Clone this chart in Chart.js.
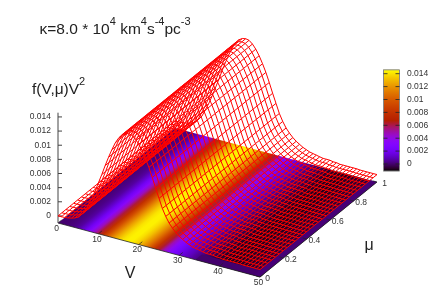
<!DOCTYPE html>
<html>
<head>
<meta charset="utf-8">
<style>
  html, body { margin: 0; padding: 0; background: #fff; }
  canvas { display: block; }
</style>
<script src="https://cdn.jsdelivr.net/npm/chart.js@4"></script>
</head>
<body>
<canvas id="chart" width="436" height="305"></canvas>
<script>
// mesh grid (one column per V, one row per mu)
const velocities = [0,0.83,1.67,2.5,3.33,4.17,5,5.83,6.67,7.5,8.33,9.17,10,10.83,11.67,12.5,13.33,14.17,15,15.83,16.67,17.5,18.33,19.17,20,20.83,21.67,22.5,23.33,24.17,25,25.83,26.67,27.5,28.33,29.17,30,30.83,31.67,32.5,33.33,34.17,35,35.83,36.67,37.5,38.33,39.17,40,40.83,41.67,42.5,43.33,44.17,45,45.83,46.67,47.5,48.33,49.17,50];
const mus = [0,0.033,0.067,0.1,0.133,0.167,0.2,0.233,0.267,0.3,0.333,0.367,0.4,0.433,0.467,0.5,0.533,0.567,0.6,0.633,0.667,0.7,0.733,0.767,0.8,0.833,0.867,0.9,0.933,0.967,1];
const density = [0,0.00001,0.00004,0.0001,0.0002,0.00035,0.0006,0.0011,0.0017,0.0027,0.0037,0.0049,0.0062,0.0075,0.0089,0.0102,0.0114,0.0125,0.0133,0.0139,0.0142,0.0143,0.0142,0.0138,0.0132,0.0124,0.0114,0.0103,0.009,0.0076,0.0063,0.005,0.004,0.0032,0.0026,0.0021,0.0017,0.0014,0.0011,0.0009,0.0007,0.0006,0.0005,0.0004,0.0003,0.0003,0.0003,0.0002,0.0002,0.0001,0.0001,0.0001,0.0001,0.0001,0.0001,0.00005,0.00005,0.00005,0.00005,0.00005,0.00005];
// colour of the base map, darker than the surface in the tail
const baseVelocities = [0,1,2,3,4,5,6,7,8,9,10,11,12,13,14,15,16,17,18,19,20,21,22,23,24,25,26,27,28,29,30,31,32,33,34,35,36,37,38,39,40,41,42,43,44,45,46,47,48,49,50];
const baseLevel = [0,0.00002,0.00006,0.00015,0.0003,0.0006,0.0012,0.0021,0.0033,0.0047,0.0062,0.0078,0.0094,0.011,0.0123,0.0133,0.014,0.0143,0.0143,0.0139,0.0132,0.0122,0.011,0.0095,0.0079,0.0063,0.0048,0.0037,0.0028,0.0022,0.0017,0.0013,0.001,0.0006,0.0003,0,-0.0002,-0.0004,-0.0006,-0.0007,-0.0008,-0.0008,-0.0008,-0.0008,-0.0007,-0.0007,-0.0006,-0.0006,-0.0005,-0.0004,-0.0004];

const zTicks = [0,0.002,0.004,0.006,0.008,0.01,0.012,0.014];
const zTickLabels = ['0','0.002','0.004','0.006','0.008','0.01','0.012','0.014'];
const vTicks = [0,10,20,30,40,50];
const muTicks = [0,0.2,0.4,0.6,0.8,1];
const muTickLabels = ['0','0.2','0.4','0.6','0.8','1'];

const zMin = -0.001, cbMin = -0.0011, cbMax = 0.0146;

// gnuplot style orthographic view, page pixels
function project(v, mu, z) {
  return {
    x: 58 + 4.04 * v + 117 * mu,
    y: 223 + 1.08 * v - 95 * mu - (z - zMin) * 7071
  };
}

// default pm3d palette (rgbformulae 7,5,15)
function palette(level) {
  const t = Math.min(1, Math.max(0, (level - cbMin) / (cbMax - cbMin)));
  const r = Math.sqrt(t), g = t * t * t, b = Math.max(0, Math.sin(2 * Math.PI * t));
  return `rgb(${Math.round(r * 255)},${Math.round(g * 255)},${Math.round(b * 255)})`;
}

function cbY(z) {
  return 164 - z * 6450;
}

const gradients = {};
function baseGradient(context) {
  const chart = context.chart;
  if (!chart.chartArea) return '#000';
  if (gradients.base) return gradients.base;
  const sx = chart.scales.x, sy = chart.scales.y;
  // the colour only changes along V, so run the gradient across the mu direction
  const a = project(0, 0, zMin), b = project(50, 0, zMin), c = project(0, 1, zMin);
  const wx = c.x - a.x, wy = c.y - a.y;
  const nLen = Math.hypot(wx, wy);
  const nx = -wy / nLen, ny = wx / nLen;
  const d = (b.x - a.x) * nx + (b.y - a.y) * ny;
  const g = chart.ctx.createLinearGradient(
    sx.getPixelForValue(a.x), sy.getPixelForValue(a.y),
    sx.getPixelForValue(a.x + nx * d), sy.getPixelForValue(a.y + ny * d));
  baseVelocities.forEach((v, i) => g.addColorStop(v / 50, palette(baseLevel[i])));
  gradients.base = g;
  return g;
}

function barGradient(context) {
  const chart = context.chart;
  if (!chart.chartArea) return '#000';
  if (gradients.bar) return gradients.bar;
  const sy = chart.scales.y;
  const g = chart.ctx.createLinearGradient(0, sy.getPixelForValue(cbY(cbMin)), 0, sy.getPixelForValue(cbY(cbMax)));
  for (let i = 0; i <= 40; i++) {
    g.addColorStop(i / 40, palette(cbMin + (cbMax - cbMin) * i / 40));
  }
  gradients.bar = g;
  return g;
}

function lineSet(points, color, width) {
  return { data: points, showLine: true, borderColor: color, borderWidth: width, pointRadius: 0, fill: false, tension: 0 };
}

function shapeSet(points, background) {
  return { data: points, showLine: true, borderWidth: 0, borderColor: 'transparent', pointRadius: 0, fill: 'shape', backgroundColor: background, tension: 0 };
}

const datasets = [];
const meshColor = 'rgb(255,0,0)';

// first in the list is painted last: mesh on top
mus.forEach((mu) => {
  datasets.push(lineSet(velocities.map((v, i) => project(v, mu, density[i])), meshColor, 1));
});
velocities.forEach((v, i) => {
  datasets.push(lineSet(mus.map((mu) => project(v, mu, density[i])), meshColor, 1));
});

// axes
const axisColor = '#444';
datasets.push(lineSet([project(0, 0, zMin), project(0, 0, cbMax)], axisColor, 1));
datasets.push(lineSet([project(0, 0, zMin), project(50, 0, zMin)], '#222', 0.8));
datasets.push(lineSet([project(50, 0, zMin), project(50, 1, zMin)], '#222', 0.8));
zTicks.forEach((z) => {
  const p = project(0, 0, z);
  datasets.push(lineSet([p, { x: p.x + 4, y: p.y }], axisColor, 1));
});
vTicks.forEach((v) => {
  datasets.push(lineSet([project(v, 0, zMin), project(v, 0.03, zMin)], '#222', 0.7));
});
muTicks.forEach((mu) => {
  datasets.push(lineSet([project(50, mu, zMin), project(49, mu, zMin)], '#222', 0.7));
});

// colour box
const barLeft = 383.5, barRight = 399.5;
zTicks.forEach((z) => {
  datasets.push(lineSet([{ x: barLeft, y: cbY(z) }, { x: barLeft + 4, y: cbY(z) }], '#222', 0.8));
  datasets.push(lineSet([{ x: barRight - 4, y: cbY(z) }, { x: barRight, y: cbY(z) }], '#222', 0.8));
});
const barCorners = [
  { x: barLeft, y: cbY(cbMin) }, { x: barRight, y: cbY(cbMin) },
  { x: barRight, y: cbY(cbMax) }, { x: barLeft, y: cbY(cbMax) }, { x: barLeft, y: cbY(cbMin) }
];
datasets.push(lineSet(barCorners, '#888', 1));
datasets.push(shapeSet(barCorners, barGradient));

// rim of the base map, at the surface's zero colour
datasets.push(shapeSet([project(48.4, 0, zMin), project(50, 0, zMin), project(50, 1, zMin), project(48.4, 1, zMin), project(48.4, 0, zMin)], palette(0.0001)));
datasets.push(shapeSet([project(34, 0, zMin), project(50, 0, zMin), project(50, 0.055, zMin), project(34, 0.055, zMin), project(34, 0, zMin)], palette(0)));
// base map
datasets.push(shapeSet([project(0, 0, zMin), project(50, 0, zMin), project(50, 1, zMin), project(0, 1, zMin), project(0, 0, zMin)], baseGradient));

function drawRuns(ctx, x, y, runs) {
  // runs: [text, size, raise]
  runs.forEach((r) => {
    ctx.font = `${r[1]}px "Liberation Sans", Arial, sans-serif`;
    ctx.fillText(r[0], x, y - r[2]);
    x += ctx.measureText(r[0]).width;
  });
}

const labelsPlugin = {
  id: 'labels',
  afterDraw(chart) {
    const ctx = chart.ctx;
    ctx.save();
    ctx.textBaseline = 'alphabetic';
    ctx.fillStyle = '#222';
    ctx.textAlign = 'left';
    drawRuns(ctx, 39.5, 34, [['κ=8.0 * 10', 15.5, 0], ['4', 11, 9], [' km', 15.5, 0], ['4', 11, 9], ['s', 15.5, 0], ['-4', 11, 9], ['pc', 15.5, 0], ['-3', 11, 9]]);
    drawRuns(ctx, 32, 94, [['f(V,μ)V', 15.5, 0], ['2', 11, 9]]);
    ctx.font = '16px "Liberation Sans", Arial, sans-serif';
    ctx.textAlign = 'center';
    ctx.fillText('V', 130, 278);
    ctx.fillText('μ', 369, 250);

    ctx.fillStyle = '#333';
    ctx.font = '8.5px "Liberation Sans", Arial, sans-serif';
    ctx.textBaseline = 'middle';
    ctx.textAlign = 'right';
    zTicks.forEach((z, i) => {
      const p = project(0, 0, z);
      ctx.fillText(zTickLabels[i], 51, p.y);
    });
    ctx.textAlign = 'center';
    vTicks.forEach((v) => {
      const p = project(v, 0, zMin);
      ctx.fillText(String(v), p.x - 1.5, p.y + 5.5);
    });
    muTicks.forEach((mu, i) => {
      const p = project(50, mu, zMin);
      ctx.fillText(muTickLabels[i], p.x + 7.5, p.y + 2);
    });
    ctx.textAlign = 'left';
    zTicks.forEach((z, i) => {
      ctx.fillText(zTickLabels[i], 407, cbY(z));
    });
    ctx.restore();
  }
};

new Chart(document.getElementById('chart'), {
  type: 'scatter',
  data: { datasets: datasets },
  plugins: [labelsPlugin],
  options: {
    responsive: false,
    animation: false,
    events: [],
    layout: { padding: 0 },
    plugins: { legend: { display: false }, tooltip: { enabled: false }, title: { display: false } },
    scales: {
      x: { type: 'linear', min: 0, max: 436, display: false },
      y: { type: 'linear', min: 0, max: 305, reverse: true, display: false }
    }
  }
});
</script>
</body>
</html>
